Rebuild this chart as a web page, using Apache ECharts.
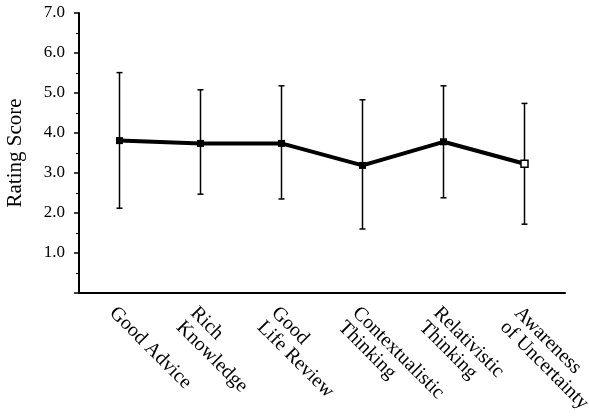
<!DOCTYPE html>
<html>
<head>
<meta charset="utf-8">
<script src="https://cdn.jsdelivr.net/npm/echarts@6/dist/echarts.min.js"></script>
<style>
  html, body { margin: 0; padding: 0; background: #fff; }
  #chart { width: 589px; height: 419px; }
</style>
</head>
<body>
<div id="chart"></div>
<script>
// Wisdom-related criteria: mean rating with error bar range
const categories = [
  'Good Advice',
  'Rich\nKnowledge',
  'Good\nLife Review',
  'Contextualistic\nThinking',
  'Relativistic\nThinking',
  'Awareness\nof Uncertainty'
];
const meanScores = [3.81, 3.74, 3.74, 3.19, 3.78, 3.23];
const upperBounds = [5.51, 5.08, 5.18, 4.83, 5.18, 4.74];
const lowerBounds = [2.12, 2.47, 2.35, 1.60, 2.38, 1.72];
const yTickValues = [1, 2, 3, 4, 5, 6, 7];

const serif = '"Liberation Serif", "Times New Roman", serif';

const chart = echarts.init(document.getElementById('chart'), null, { renderer: 'canvas' });

const errorData = categories.map((c, i) => [i, lowerBounds[i], upperBounds[i]]);

const lineData = meanScores.map((v, i) => {
  if (i === meanScores.length - 1) {
    return { value: v, itemStyle: { color: '#fff', borderColor: '#000', borderWidth: 1.5 } };
  }
  return v;
});

chart.setOption({
  animation: false,
  backgroundColor: '#fff',
  grid: { left: 79, right: 24, top: 13, bottom: 126, containLabel: false, outerBoundsMode: 'none' },
  xAxis: {
    type: 'category',
    data: categories,
    boundaryGap: true,
    axisLine: { lineStyle: { color: '#000', width: 2 } },
    axisTick: { alignWithLabel: true, inside: false, length: 4, lineStyle: { color: '#000', width: 1.5 } },
    axisLabel: {
      interval: 0,
      rotate: -45,
      align: 'left',
      verticalAlign: 'top',
      margin: 10,
      color: '#000',
      fontFamily: serif,
      fontSize: 20,
      lineHeight: 20
    },
    splitLine: { show: false }
  },
  yAxis: {
    type: 'value',
    min: 0,
    max: 7,
    interval: 1,
    name: 'Rating Score',
    nameLocation: 'middle',
    nameRotate: 90,
    nameGap: 53,
    nameTextStyle: { color: '#000', fontFamily: serif, fontSize: 21 },
    axisLine: { show: true, lineStyle: { color: '#000', width: 2 } },
    axisTick: { show: true, inside: false, length: 5, lineStyle: { color: '#000', width: 1.5 } },
    minorTick: { show: true, splitNumber: 2, length: 3, lineStyle: { color: '#000', width: 1 } },
    axisLabel: {
      color: '#000',
      fontFamily: serif,
      fontSize: 17,
      margin: 14,
      formatter: v => (yTickValues.indexOf(v) >= 0 ? v.toFixed(1) : '')
    },
    splitLine: { show: false }
  },
  series: [
    {
      type: 'custom',
      name: 'range',
      data: errorData,
      z: 1,
      renderItem: (params, api) => {
        const x = api.value(0);
        const lo = api.coord([x, api.value(1)]);
        const hi = api.coord([x, api.value(2)]);
        const cap = 3;
        const style = { stroke: '#000', lineWidth: 1.5 };
        return {
          type: 'group',
          children: [
            { type: 'line', shape: { x1: lo[0], y1: lo[1], x2: hi[0], y2: hi[1] }, style },
            { type: 'line', shape: { x1: hi[0] - cap, y1: hi[1], x2: hi[0] + cap, y2: hi[1] }, style },
            { type: 'line', shape: { x1: lo[0] - cap, y1: lo[1], x2: lo[0] + cap, y2: lo[1] }, style }
          ]
        };
      }
    },
    {
      type: 'line',
      name: 'mean',
      data: lineData,
      z: 3,
      symbol: 'rect',
      symbolSize: 7,
      lineStyle: { color: '#000', width: 4 },
      itemStyle: { color: '#000' }
    }
  ]
});
</script>
</body>
</html>
